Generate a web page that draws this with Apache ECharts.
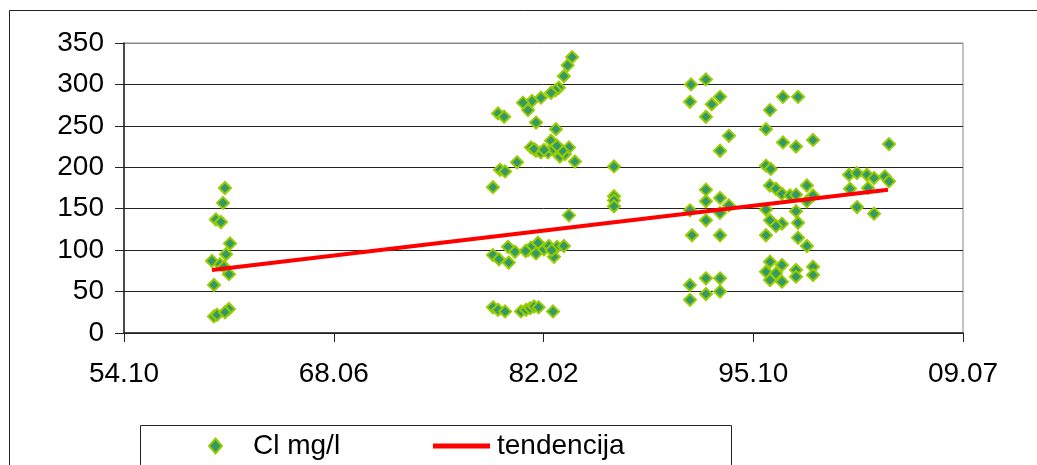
<!DOCTYPE html>
<html>
<head>
<meta charset="utf-8">
<script src="https://cdn.jsdelivr.net/npm/echarts@6/dist/echarts.min.js"></script>
<style>
  html,body{margin:0;padding:0;background:#fff;}
  #chart{width:1037px;height:465px;}
</style>
</head>
<body>
<div id="chart"></div>
<script>
// axis labels (yy.mm), one tick every 5000 days starting Oct 1954
var tickLabels=['54.10','68.06','82.02','95.10','09.07'];
var startYear=1954.79;
var periodYears=5000/365.25;

// Cl mg/l samples: [decimal year, value]
var chloride=[
  // early 60s
  [1961.38,175],[1961.25,157],[1960.79,137],[1961.12,134],[1961.71,108],[1961.45,95],
  [1960.53,87],[1961.06,83],[1961.32,80],[1961.64,71],[1960.66,58],[1960.66,20],
  [1960.86,22],[1961.64,29],[1961.38,25],
  // ~1979-1984
  [1984.04,333],[1983.74,323],[1983.50,310],[1983.17,296],[1982.95,293],[1982.66,290],
  [1982.00,284],[1981.42,280],[1980.83,278],[1981.16,269],[1979.20,265],[1979.60,261],
  [1981.68,254],[1982.98,246],[1982.66,232],[1981.35,224],[1981.68,220],[1982.00,218],
  [1982.46,218],[1982.79,222],[1983.24,213],[1983.57,216],[1983.83,224],[1984.22,207],
  [1981.55,222],[1982.20,221],[1983.40,220],[1983.05,226],
  [1980.44,206],[1979.33,197],[1979.66,195],[1978.87,176],
  [1983.83,142],
  [1978.87,94],[1979.26,89],[1979.85,104],[1980.31,98],[1979.90,85],[1981.16,100],
  [1981.35,103],[1981.81,109],[1981.68,96],[1982.20,101],[1982.52,105],[1982.85,92],
  [1983.05,104],[1983.50,105],[1981.00,99],[1982.70,100],
  [1978.87,31],[1979.20,28],[1979.66,26],[1980.70,26],[1981.03,28],[1981.30,30],
  [1981.55,32],[1981.85,31],[1982.79,26],
  // 1986
  [1986.77,201],[1986.77,165],[1986.77,160],[1986.77,153],
  // ~1991-1994
  [1991.80,300],[1992.77,306],[1991.73,279],[1993.15,276],[1993.69,285],[1992.77,261],
  [1994.27,238],[1993.69,220],[1992.77,173],[1992.77,159],[1993.69,163],[1994.27,154],
  [1991.73,148],[1993.69,145],[1992.77,136],[1991.86,118],[1993.69,118],[1991.73,58],
  [1992.77,66],[1993.69,66],[1992.77,47],[1993.69,50],[1991.73,40],
  // ~1996-2000
  [1997.80,285],[1998.78,285],[1996.95,269],[1996.69,246],[1997.80,230],[1998.65,225],
  [1999.76,233],[1996.69,202],[1997.00,198],[1996.95,178],[1997.34,174],[1997.73,168],
  [1998.26,166],[1998.65,167],[1999.36,178],[1999.76,166],[1999.36,159],[1996.69,149],
  [1998.65,147],[1996.95,136],[1997.73,132],[1997.34,129],[1998.78,133],[1996.69,118],
  [1998.78,115],[1999.36,105],[1996.95,86],[1997.73,82],[1996.69,74],[1997.34,72],
  [1996.95,64],[1997.73,62],[1998.65,76],[1998.65,68],[1999.76,80],[1999.76,70],
  // ~2002-2005
  [2004.72,228],[2002.11,191],[2002.63,193],[2003.28,191],[2003.74,187],[2004.45,189],
  [2004.72,183],[2002.17,174],[2003.35,175],[2002.63,152],[2003.74,144]
];

// tendencija: start and end of the trend line
var trendYears=[1960.53,2004.65];
var trendValues=[76,173];

var yTicks=[0,50,100,150,200,250,300,350];

function toPeriod(year){ return (year-startYear)/periodYears; }

var scatterData=chloride.map(function(p){ return [toPeriod(p[0]),p[1]]; });
var trendData=trendYears.map(function(y,i){ return [toPeriod(y),trendValues[i]]; });

var font='"Liberation Sans", Arial, sans-serif';
var myChart=echarts.init(document.getElementById('chart'));
var option={
  animation:false,
  backgroundColor:'#fff',
  textStyle:{fontFamily:font,color:'#000'},
  grid:{
    left:124,right:74,top:43,bottom:132,
    show:true,borderColor:'#888',borderWidth:1
  },
  xAxis:{
    type:'value',
    min:0,max:tickLabels.length-1,interval:1,
    axisLine:{lineStyle:{color:'#222',width:1.5}},
    axisTick:{length:9,lineStyle:{color:'#222'}},
    splitLine:{show:false},
    axisLabel:{
      margin:27,fontSize:28,color:'#000',fontFamily:font,
      formatter:function(v){ return tickLabels[Math.round(v)]; }
    }
  },
  yAxis:{
    type:'value',
    min:yTicks[0],max:yTicks[yTicks.length-1],interval:50,
    axisLine:{show:true,lineStyle:{color:'#222',width:1.5}},
    axisTick:{show:true,length:9,lineStyle:{color:'#222'}},
    splitLine:{lineStyle:{color:['#222','#222','#222','#222','#222','#222','#222','#888'],width:1}},
    axisLabel:{margin:20,fontSize:28,color:'#000',fontFamily:font}
  },
  legend:[{
    data:['Cl mg/l'],
    left:208,top:432,padding:0,
    itemWidth:13,itemHeight:15,
    textStyle:{fontSize:28,color:'#000',fontFamily:font,padding:[0,0,0,26]}
  },{
    data:[{name:'tendencija',icon:'rect'}],
    left:433,top:432,padding:0,
    itemWidth:57,itemHeight:5,
    textStyle:{fontSize:28,color:'#000',fontFamily:font,padding:[0,0,0,2]}
  }],
  graphic:[
    {type:'rect',shape:{x:9.5,y:10.5,width:1100,height:500},style:{fill:'none',stroke:'#222',lineWidth:1},silent:true},
    {type:'rect',shape:{x:140.5,y:425.5,width:591,height:80},style:{fill:'none',stroke:'#222',lineWidth:1},silent:true}
  ],
  series:[{
    name:'Cl mg/l',
    type:'scatter',
    symbol:'diamond',
    symbolSize:12,
    itemStyle:{color:'#339966',borderColor:'#99CC00',borderWidth:2,opacity:1},
    data:scatterData,
    z:2
  },{
    name:'tendencija',
    type:'line',
    symbol:'none',
    lineStyle:{color:'#ff0000',width:4},
    itemStyle:{color:'#ff0000'},
    data:trendData,
    z:3
  }]
};
myChart.setOption(option);
</script>
</body>
</html>
